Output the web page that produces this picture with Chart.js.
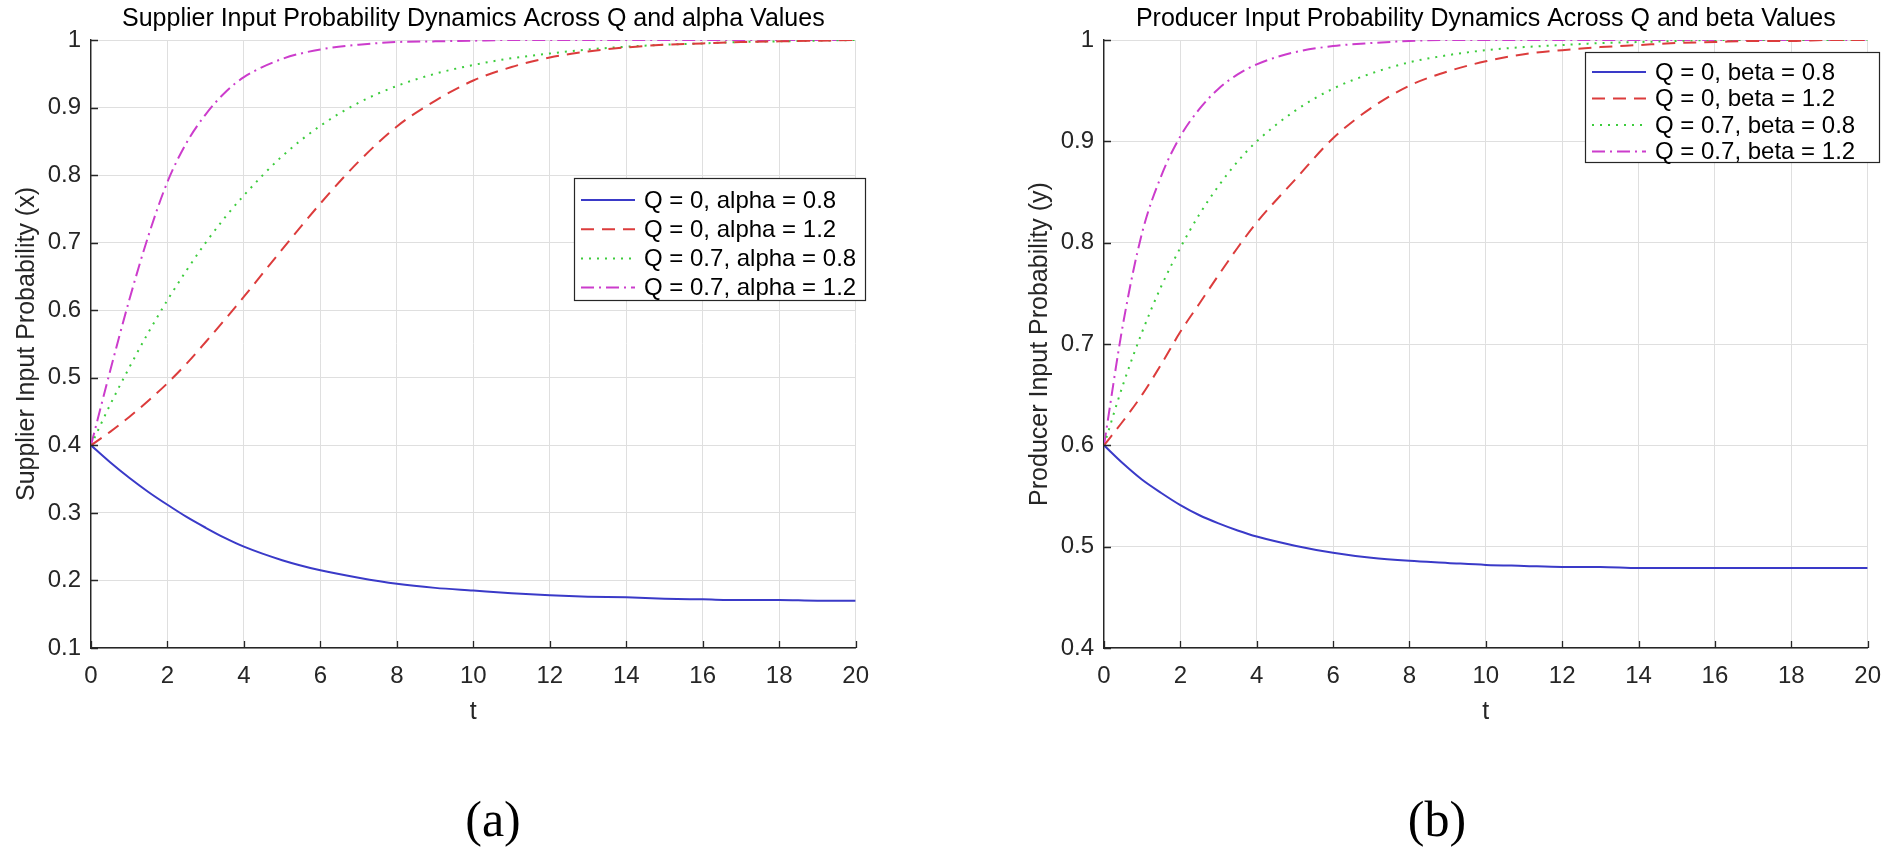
<!DOCTYPE html>
<html lang="en">
<head>
<meta charset="UTF-8">
<title>Input Probability Dynamics</title>
<script src="https://cdn.jsdelivr.net/npm/chart.js"></script>
<style>
  body { margin: 0; background: #fff; width: 1902px; height: 847px; position: relative; overflow: hidden; font-family: "Liberation Sans", Arial, sans-serif; }
  .panel { position: absolute; top: 0; height: 740px; }
  #panelA { left: 0; width: 883px; }
  #panelB { left: 1013px; width: 882px; }
  .caption { position: absolute; top: 794px; line-height: 1; font-family: "Liberation Serif", "Times New Roman", serif; font-size: 50px; color: #000; transform: translateX(-50%); }
</style>
</head>
<body>
<div class="panel" id="panelA"><canvas id="chartA"></canvas></div>
<div class="panel" id="panelB"><canvas id="chartB"></canvas></div>
<div class="caption" style="left:493px">(a)</div>
<div class="caption" style="left:1437px">(b)</div>

<script>
// time points shared by all curves
const tValues = [0, 0.5, 1, 1.5, 2, 2.5, 3, 3.5, 4, 5, 6, 7, 8, 9, 10, 11, 12, 13, 14, 15, 16, 17, 18, 19, 20];
const xTicks = [0, 2, 4, 6, 8, 10, 12, 14, 16, 18, 20];

// (a) supplier input probability x
const supplierLabels = ["Q = 0, alpha = 0.8", "Q = 0, alpha = 1.2", "Q = 0.7, alpha = 0.8", "Q = 0.7, alpha = 1.2"];
const supQ0A08 = [0.400, 0.375, 0.352, 0.331, 0.312, 0.294, 0.278, 0.263, 0.250, 0.230, 0.215, 0.204, 0.195, 0.189, 0.185, 0.181, 0.178, 0.176, 0.175, 0.173, 0.172, 0.171, 0.171, 0.170, 0.170];
const supQ0A12 = [0.400, 0.420, 0.442, 0.466, 0.492, 0.521, 0.553, 0.586, 0.620, 0.690, 0.758, 0.820, 0.872, 0.910, 0.940, 0.960, 0.974, 0.983, 0.989, 0.993, 0.995, 0.997, 0.998, 0.999, 1.000];
const supQ07A08 = [0.400, 0.460, 0.515, 0.567, 0.615, 0.659, 0.700, 0.737, 0.770, 0.828, 0.873, 0.907, 0.932, 0.950, 0.963, 0.973, 0.980, 0.986, 0.990, 0.993, 0.995, 0.997, 0.998, 0.999, 1.000];
const supQ07A12 = [0.400, 0.510, 0.615, 0.710, 0.790, 0.848, 0.890, 0.922, 0.945, 0.972, 0.986, 0.993, 0.997, 0.998, 0.999, 1.000, 1.000, 1.000, 1.000, 1.000, 1.000, 1.000, 1.000, 1.000, 1.000];
const supplierYTicks = [0.1, 0.2, 0.3, 0.4, 0.5, 0.6, 0.7, 0.8, 0.9, 1];

// (b) producer input probability y
const producerLabels = ["Q = 0, beta = 0.8", "Q = 0, beta = 1.2", "Q = 0.7, beta = 0.8", "Q = 0.7, beta = 1.2"];
const proQ0B08 = [0.600, 0.582, 0.566, 0.553, 0.541, 0.531, 0.523, 0.516, 0.510, 0.501, 0.494, 0.489, 0.486, 0.484, 0.482, 0.481, 0.480, 0.480, 0.479, 0.479, 0.479, 0.479, 0.479, 0.479, 0.479];
const proQ0B12 = [0.600, 0.624, 0.650, 0.680, 0.712, 0.740, 0.768, 0.795, 0.820, 0.862, 0.903, 0.933, 0.955, 0.969, 0.979, 0.986, 0.990, 0.993, 0.995, 0.997, 0.998, 0.999, 0.999, 1.000, 1.000];
const proQ07B08 = [0.600, 0.660, 0.712, 0.757, 0.795, 0.828, 0.856, 0.880, 0.900, 0.930, 0.952, 0.967, 0.978, 0.985, 0.990, 0.993, 0.995, 0.997, 0.998, 0.999, 1.000, 1.000, 1.000, 1.000, 1.000];
const proQ07B12 = [0.600, 0.720, 0.810, 0.866, 0.905, 0.932, 0.952, 0.966, 0.976, 0.988, 0.994, 0.997, 0.999, 1.000, 1.000, 1.000, 1.000, 1.000, 1.000, 1.000, 1.000, 1.000, 1.000, 1.000, 1.000];
const producerYTicks = [0.4, 0.5, 0.6, 0.7, 0.8, 0.9, 1];

const lineStyles = [
  { color: "#3a3ac8", dash: [] },
  { color: "#dc3c3c", dash: [13, 8] },
  { color: "#3ccc3c", dash: [2, 6] },
  { color: "#cc3ccc", dash: [13, 5, 2, 5] }
];

const FONT = '"Liberation Sans", Arial, sans-serif';
const AXIS = "#262626";
const GRID = "#dfdfdf";

// title, inward tick marks and boxed legend drawn inside the canvas
const panelDecor = {
  id: "panelDecor",
  afterDraw(chart, args, opts) {
    const ctx = chart.ctx;
    const area = chart.chartArea;
    const sx = chart.scales.x, sy = chart.scales.y;
    ctx.save();
    ctx.fillStyle = "#000";
    ctx.font = "25px " + FONT;
    ctx.textAlign = "center";
    ctx.textBaseline = "middle";
    ctx.fillText(opts.title, (area.left + area.right) / 2, 19);

    ctx.strokeStyle = AXIS;
    ctx.lineWidth = 1.3;
    ctx.beginPath();
    sx.ticks.forEach(t => {
      const px = Math.round(sx.getPixelForValue(t.value)) + 0.5;
      ctx.moveTo(px, area.bottom);
      ctx.lineTo(px, area.bottom - 7);
    });
    sy.ticks.forEach(t => {
      const py = Math.round(sy.getPixelForValue(t.value)) + 0.5;
      ctx.moveTo(area.left, py);
      ctx.lineTo(area.left + 7, py);
    });
    ctx.stroke();

    const lg = opts.legend;
    ctx.fillStyle = "#fff";
    ctx.fillRect(lg.x, lg.y, lg.w, lg.h);
    ctx.strokeStyle = AXIS;
    ctx.lineWidth = 1.2;
    ctx.strokeRect(lg.x + 0.5, lg.y + 0.5, lg.w, lg.h);
    ctx.font = "24px " + FONT;
    ctx.textAlign = "left";
    chart.data.datasets.forEach((ds, i) => {
      const yy = lg.y + lg.first + i * lg.step;
      ctx.strokeStyle = ds.borderColor;
      ctx.lineWidth = 2;
      ctx.setLineDash(ds.borderDash);
      ctx.beginPath();
      ctx.moveTo(lg.x + 7, yy);
      ctx.lineTo(lg.x + 61, yy);
      ctx.stroke();
      ctx.setLineDash([]);
      ctx.fillStyle = "#000";
      ctx.fillText(ds.label, lg.x + 70, yy + 1);
    });
    ctx.restore();
  }
};

function makeDatasets(labels, series) {
  return series.map((vals, i) => ({
    label: labels[i],
    data: tValues.map((t, j) => ({ x: t, y: vals[j] })),
    borderColor: lineStyles[i].color,
    borderDash: lineStyles[i].dash,
    borderWidth: 2,
    pointRadius: 0,
    fill: false,
    cubicInterpolationMode: "monotone"
  }));
}

function makeChart(id, labels, series, yTicks, yTitle, yTitlePad, title, legend) {
  return new Chart(document.getElementById(id), {
    type: "line",
    data: { datasets: makeDatasets(labels, series) },
    plugins: [panelDecor],
    options: {
      responsive: true,
      maintainAspectRatio: false,
      animation: false,
      layout: { padding: { top: 40, right: 20, left: 0, bottom: 0 } },
      plugins: {
        legend: { display: false },
        tooltip: { enabled: false },
        panelDecor: { title, legend }
      },
      scales: {
        x: {
          type: "linear",
          min: 0, max: 20,
          afterBuildTicks: s => { s.ticks = xTicks.map(v => ({ value: v })); },
          afterFit: s => { s.height = 92; },
          ticks: { color: AXIS, font: { size: 24, family: FONT }, padding: 14, maxRotation: 0 },
          grid: { color: GRID, drawTicks: false },
          border: { color: AXIS, width: 1.4 },
          title: { display: true, text: "t", color: AXIS, font: { size: 25, family: FONT }, padding: { top: 2, bottom: 13 } }
        },
        y: {
          min: yTicks[0], max: yTicks[yTicks.length - 1],
          afterBuildTicks: s => { s.ticks = yTicks.map(v => ({ value: v })); },
          afterFit: s => { s.width = 91; },
          ticks: { color: AXIS, font: { size: 24, family: FONT }, padding: 10, callback: v => String(Number(v.toFixed(1))) },
          grid: { color: GRID, drawTicks: false },
          border: { color: AXIS, width: 1.4 },
          title: { display: true, text: yTitle, color: AXIS, font: { size: 25, family: FONT }, padding: { top: yTitlePad, bottom: 2 } }
        }
      }
    }
  });
}

makeChart("chartA", supplierLabels, [supQ0A08, supQ0A12, supQ07A08, supQ07A12], supplierYTicks,
  "Supplier Input Probability (x)", 12, "Supplier Input Probability Dynamics Across Q and alpha Values",
  { x: 574, y: 178, w: 291, h: 122, first: 22, step: 29.2 });

makeChart("chartB", producerLabels, [proQ0B08, proQ0B12, proQ07B08, proQ07B12], producerYTicks,
  "Producer Input Probability (y)", 12, "Producer Input Probability Dynamics Across Q and beta Values",
  { x: 572, y: 52, w: 294, h: 110, first: 20, step: 26.5 });
</script>
</body>
</html>
